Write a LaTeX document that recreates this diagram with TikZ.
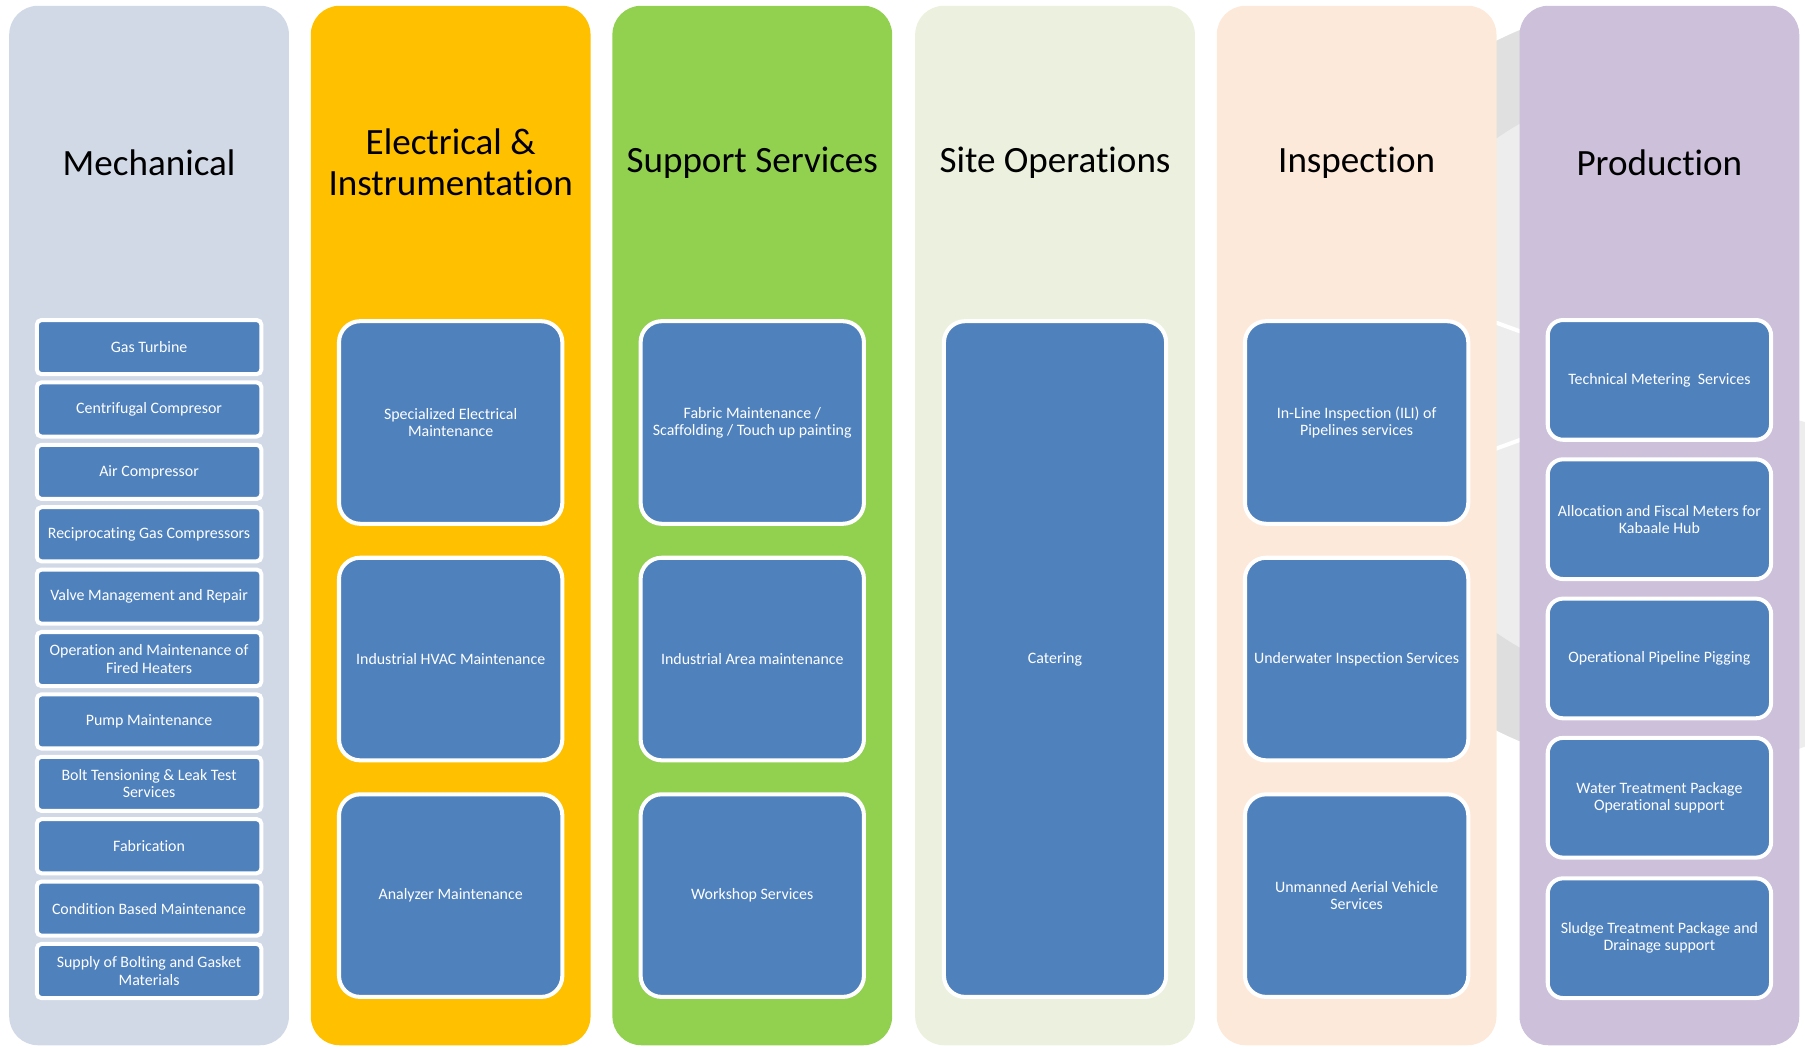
\documentclass[tikz,border=0pt]{standalone}
\usepackage{fontspec}
\setmainfont{Carlito}[Ligatures=NoCommon]
\definecolor{mechfill}{HTML}{D1D9E7}
\definecolor{elecfill}{HTML}{FFC000}
\definecolor{suppfill}{HTML}{92D050}
\definecolor{sitefill}{HTML}{EBF1DE}
\definecolor{inspfill}{HTML}{FDE9D9}
\definecolor{prodfill}{HTML}{CCC0DA}
\definecolor{itemblue}{HTML}{4F81BD}
\tikzset{
  lane/.style={rounded corners=0.75cm},
  head/.style={font=\fontsize{27.5}{31}\selectfont, align=center, text=black},
  item/.style={fill=itemblue, draw=white, line width=3pt, text=white, align=center,
    font=\fontsize{11.8}{12.8}\selectfont, inner sep=0pt},
  smallitem/.style={item, rounded corners=0.12cm, minimum width=5.85cm, minimum height=1.41cm},
  bigitem/.style={item, rounded corners=0.55cm, minimum width=5.82cm, minimum height=5.28cm},
  proditem/.style={item, rounded corners=0.4cm, minimum width=5.82cm, minimum height=3.12cm}
}
\begin{document}
\begin{tikzpicture}[x=0.03cm, y=-0.03cm]
    \useasboundingbox (0,0) rectangle (1568,910);
    % grey watermark behind the last lanes
    \begin{scope}[shift={(1450,335)}]
    \fill[gray!14] (0,0) -- (15:335) arc[start angle=15, end angle=250, radius=335] -- cycle;
    \fill[gray!26] (100:335) arc[start angle=100, end angle=150, radius=335] -- (150:262) arc[start angle=150, end angle=100, radius=262] -- cycle;
    \fill[gray!24] (215:335) arc[start angle=215, end angle=250, radius=335] -- (250:262) arc[start angle=250, end angle=215, radius=262] -- cycle;
    \draw[white, line width=3pt] (0,0) -- (200:340);
    \draw[white, line width=3pt] (0,0) -- (160:340);
    \end{scope}
    % lanes
    \fill[mechfill, lane] (8,5) rectangle (251,908);
    \fill[elecfill, lane] (270,5) rectangle (513,908);
    \fill[suppfill, lane] (532,5) rectangle (775,908);
    \fill[sitefill, lane] (795,5) rectangle (1038,908);
    \fill[inspfill, lane] (1057,5) rectangle (1300,908);
    \fill[prodfill, lane] (1320,5) rectangle (1563,908);
    % headings
    \node[head] (mechhead) at (129.5,141) {Mechanical};
    \node[head] (elechead) at (391.5,141) {Electrical \&\\Instrumentation};
    \node[head] (supphead) at (653.5,141) {Support Services};
    \node[head] (sitehead) at (916.5,141) {Site Operations};
    \node[head] (insphead) at (1178.5,141) {Inspection};
    \node[head] (prodhead) at (1441.5,141) {Production};
    % mechanical
    \node[smallitem] (gasturb) at (129.5,301.5) {Gas Turbine};
    \node[smallitem] (centcomp) at (129.5,355.7) {Centrifugal Compresor};
    \node[smallitem] (aircomp) at (129.5,409.9) {Air Compressor};
    \node[smallitem] (recipcomp) at (129.5,464.1) {Reciprocating Gas Compressors};
    \node[smallitem] (valvemgmt) at (129.5,518.3) {Valve Management and Repair};
    \node[smallitem] (firedheat) at (129.5,572.5) {Operation and Maintenance of\\Fired Heaters};
    \node[smallitem] (pumpmaint) at (129.5,626.7) {Pump Maintenance};
    \node[smallitem] (bolttens) at (129.5,680.9) {Bolt Tensioning \& Leak Test\\Services};
    \node[smallitem] (fabric) at (129.5,735.1) {Fabrication};
    \node[smallitem] (condmaint) at (129.5,789.3) {Condition Based Maintenance};
    \node[smallitem] (boltsupply) at (129.5,843.5) {Supply of Bolting and Gasket\\Materials};
    % electrical & instrumentation
    \node[bigitem] (elecmaint) at (391.5,367) {Specialized Electrical\\Maintenance};
    \node[bigitem] (hvac) at (391.5,572.5) {Industrial HVAC Maintenance};
    \node[bigitem] (analyzer) at (391.5,778) {Analyzer Maintenance};
    % support services
    \node[bigitem] (fabricmaint) at (653.5,367) {Fabric Maintenance /\\Scaffolding / Touch up painting};
    \node[bigitem] (areamaint) at (653.5,572.5) {Industrial Area maintenance};
    \node[bigitem] (workshop) at (653.5,778) {Workshop Services};
    % site operations
    \node[item, rounded corners=0.55cm, minimum width=5.79cm, minimum height=17.61cm] (catering) at (916.5,572.5) {Catering};
    % inspection
    \node[bigitem] (ili) at (1178.5,367) {In-Line Inspection (ILI) of\\Pipelines services};
    \node[bigitem] (underwater) at (1178.5,572.5) {Underwater Inspection Services};
    \node[bigitem] (uav) at (1178.5,778) {Unmanned Aerial Vehicle\\Services};
    % production
    \node[proditem] (metering) at (1441.5,330) {Technical Metering\ \ Services};
    \node[proditem] (fiscal) at (1441.5,451) {Allocation and Fiscal Meters for\\Kabaale Hub};
    \node[proditem] (pigging) at (1441.5,572) {Operational Pipeline Pigging};
    \node[proditem] (watertreat) at (1441.5,693) {Water Treatment Package\\Operational support};
    \node[proditem] (sludge) at (1441.5,815) {Sludge Treatment Package and\\Drainage support};
\end{tikzpicture}
\end{document}
